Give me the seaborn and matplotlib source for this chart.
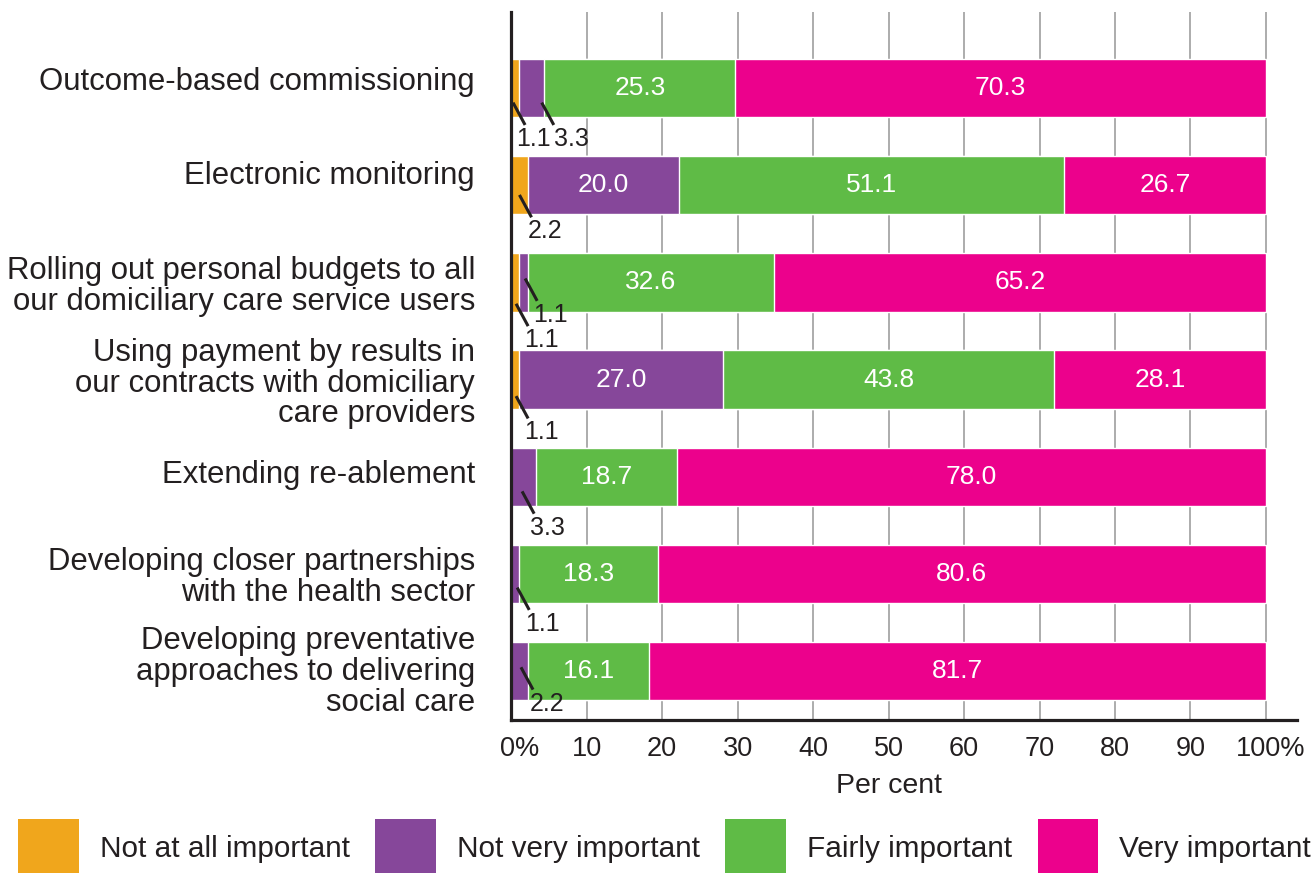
import matplotlib
matplotlib.use("Agg")
import numpy as np
import pandas as pd
import matplotlib.pyplot as plt
import matplotlib.transforms as mtransforms
import seaborn as sns
from matplotlib.patches import Patch

# data (per cent of respondents)
categories = [
    "Outcome-based commissioning",
    "Electronic monitoring",
    "Rolling out personal budgets to all\nour domiciliary care service users",
    "Using payment by results in\nour contracts with domiciliary\ncare providers",
    "Extending re-ablement",
    "Developing closer partnerships\nwith the health sector",
    "Developing preventative\napproaches to delivering\nsocial care",
]
not_at_all = [1.1, 2.2, 1.1, 1.1, 0.0, 0.0, 0.0]
not_very = [3.3, 20.0, 1.1, 27.0, 3.3, 1.1, 2.2]
fairly = [25.3, 51.1, 32.6, 43.8, 18.7, 18.3, 16.1]
very = [70.3, 26.7, 65.2, 28.1, 78.0, 80.6, 81.7]

series_names = ["Not at all important", "Not very important", "Fairly important", "Very important"]
colors = ["#F0A61C", "#86479A", "#5FBB46", "#EC018C"]
text_col = "#231F20"

# small segments get a leader line: (row, series, line x nudge, line y nudge, text x nudge)
small_labels = [
    (0, 0, -0.3, 0.15, -0.7), (0, 1, 1.3, 0.15, 0.5),
    (1, 0, 0.0, 0.10, 0.0),
    (2, 1, 0.2, -0.04, 0.0), (2, 0, 0.1, 0.22, 0.0),
    (3, 0, 0.1, 0.17, 0.0),
    (4, 1, -0.2, 0.15, 0.0),
    (5, 1, 0.25, 0.14, 0.0),
    (6, 1, 0.2, -0.04, 0.0),
]
# vertical nudge (points) of the row labels
label_shift = [7, 9, 0, 0, 4, 0, 2]

sns.set_theme(style="white")
plt.rcParams["font.family"] = ["Liberation Sans", "DejaVu Sans"]

values = np.array([not_at_all, not_very, fairly, very]).T
cum = values.cumsum(axis=1)
df = pd.DataFrame(cum, columns=series_names)
df["category"] = categories

fig, ax = plt.subplots(figsize=(13.14, 8.73), dpi=100)
fig.subplots_adjust(left=0.389, right=0.987, bottom=0.175, top=0.986)

ax.set_axisbelow(True)
ax.grid(axis="x", color="#a6a6a6", linewidth=1.3)

# stacked bars: draw cumulative totals from the longest down
for i in range(3, -1, -1):
    sns.barplot(data=df, x=series_names[i], y="category", order=categories,
                orient="h", color=colors[i], width=0.6, saturation=1,
                ax=ax, zorder=2)

# white labels in the big segments
for r in range(len(categories)):
    left = 0
    for s in range(4):
        v = values[r, s]
        if v >= 10:
            ax.text(left + v / 2, r, f"{v:.1f}", color="white", fontsize=19,
                    ha="center", va="center", zorder=3)
        left += v

# leader lines for the small ones
for r, s, dx, dy, tdx in small_labels:
    v = values[r, s]
    x0 = cum[r, s] - v / 2 + dx
    y0 = r + dy
    x1, y1 = x0 + 1.6, y0 + 0.23
    ax.plot([x0, x1], [y0, y1], color=text_col, linewidth=2.2, zorder=4,
            solid_capstyle="butt")
    ax.text(x1 - 0.5 + tdx, y1 + 0.02, f"{v:.1f}", color=text_col, fontsize=18,
            ha="left", va="top", zorder=4)

ax.set_xlim(0, 104.1)
ax.set_ylim(6.505, -0.78)
ax.set_xticks(range(0, 101, 10))
ax.set_xticklabels(["0%"] + [str(t) for t in range(10, 100, 10)] + ["100%"])
ax.tick_params(axis="x", length=0, pad=11, labelsize=19.5, labelcolor=text_col)
ax.tick_params(axis="y", length=0, pad=26, labelsize=22.4, labelcolor=text_col)
for lab, sh in zip(ax.get_yticklabels(), label_shift):
    lab.set_linespacing(1.04)
    lab.set_transform(lab.get_transform() + mtransforms.ScaledTranslation(0, sh / 72, fig.dpi_scale_trans))
# the % sign hangs to the right of the first and last tick
xt = ax.get_xticklabels()
xt[0].set_transform(xt[0].get_transform() + mtransforms.ScaledTranslation(0.08, 0, fig.dpi_scale_trans))
xt[-1].set_transform(xt[-1].get_transform() + mtransforms.ScaledTranslation(0.05, 0, fig.dpi_scale_trans))

ax.set_ylabel("")
ax.set_xlabel("Per cent", fontsize=20.5, color=text_col)
ax.xaxis.set_label_coords(50 / 104.1, -0.075)

sns.despine(ax=ax, top=True, right=True)
for side in ["left", "bottom"]:
    ax.spines[side].set_color(text_col)
    ax.spines[side].set_linewidth(2.3)

handles = [Patch(facecolor=c, edgecolor="none") for c in colors]
fig.legend(handles, series_names, loc="lower left", bbox_to_anchor=(0.014, -0.006),
           ncol=4, frameon=False, fontsize=21.4, handlelength=2.05, handleheight=2.7,
           handletextpad=0.7, columnspacing=0.85, borderpad=0, borderaxespad=0,
           labelcolor=text_col)

fig.savefig("out.png", dpi=100)
